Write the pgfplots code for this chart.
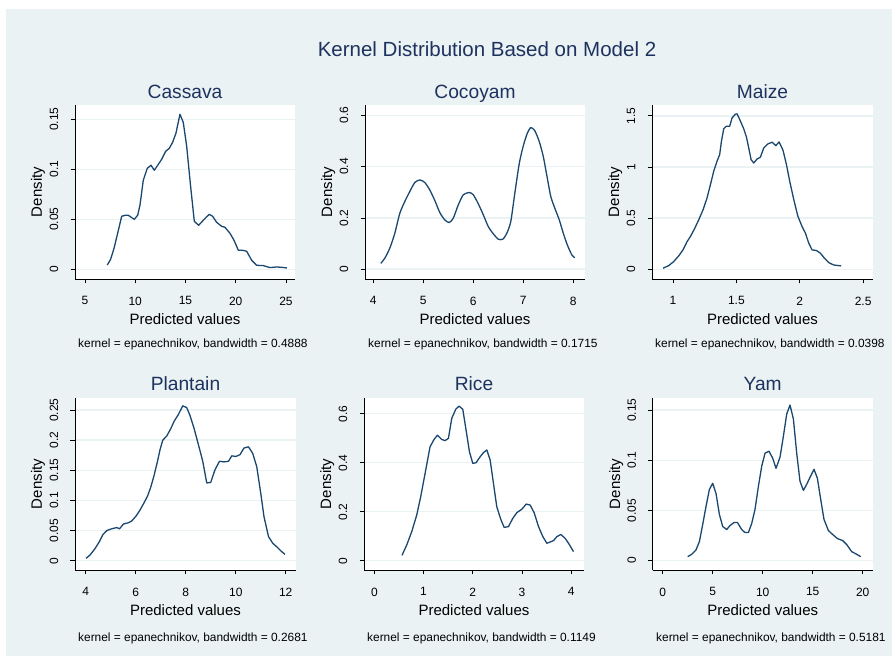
\documentclass[border=0pt]{standalone}
\usepackage{pgfplots}
\pgfplotsset{compat=1.18}
\usepackage{fontspec}
\setmainfont{Liberation Sans}
\definecolor{bg}{RGB}{234,242,243}
\definecolor{gridc}{RGB}{234,242,243}
\definecolor{navy}{RGB}{26,71,111}
\definecolor{ttl}{RGB}{30,50,95}
\newcommand{\tlfont}{\fontsize{12}{14}\selectfont}

\pgfplotsset{
 panel/.style={
  scale only axis, anchor=south west,
  axis x line*=bottom, axis y line*=left,
  axis line style={black, line width=0.8pt, -},
  axis background/.style={fill=white},
  tick align=outside, major tick length=4.5pt,
  tick style={black, line width=0.8pt},
  ymajorgrids, major grid style={gridc, line width=1.5pt},
  xticklabel style={font=\tlfont, anchor=north, inner sep=0pt, yshift=-13pt},
  yticklabel style={font=\tlfont, xshift=-12pt, rotate=90, anchor=south, inner sep=0pt},
  /pgf/number format/assume math mode=true,
 },
 curve/.style={navy, line width=1.3pt, line join=round, no marks},
}

\begin{document}
\begin{tikzpicture}[x=1pt,y=1pt]
\useasboundingbox (0,0) rectangle (892,656);
\fill[white] (0,0) rectangle (892,656);
\fill[bg] (6,0) rectangle (892,647);

\node[anchor=base, text=ttl, font=\fontsize{20.5}{24}\selectfont] at (487,599.3) {Kernel Distribution Based on Model 2};

% ---------- Cassava ----------
\begin{axis}[panel, at={(75pt,377pt)}, width=220pt, height=174pt,
  xmin=4.005, xmax=25.9, ymin=-0.0097, ymax=0.1643,
  xtick={5,10,15,20,25}, xticklabels={5,10,15,20,25},
  ytick={0,0.05,0.1,0.15}, yticklabels={0,0.05,0.1,0.15}]
\addplot[curve] coordinates {(7.22,0.0043)(7.55,0.010)(7.89,0.021)(8.25,0.036)(8.65,0.053)(9.0,0.054)(9.31,0.054)(9.6,0.052)(9.91,0.050)(10.24,0.054)(10.47,0.064)(10.80,0.089)(11.20,0.101)(11.57,0.104)(11.90,0.099)(12.30,0.105)(12.63,0.110)(13.03,0.118)(13.39,0.121)(13.72,0.127)(14.05,0.136)(14.45,0.155)(14.78,0.147)(15.12,0.123)(15.51,0.083)(15.88,0.048)(16.31,0.044)(16.77,0.049)(17.37,0.055)(17.70,0.053)(18.10,0.047)(18.60,0.043)(18.93,0.042)(19.43,0.036)(19.83,0.029)(20.26,0.019)(20.69,0.019)(21.09,0.018)(21.59,0.009)(22.08,0.004)(22.74,0.0037)(23.41,0.0017)(24.07,0.0023)(24.57,0.002)(25.1,0.0013)};
\end{axis}

% ---------- Cocoyam ----------
\begin{axis}[panel, at={(365pt,377pt)}, width=220pt, height=174pt,
  xmin=3.834, xmax=8.234, ymin=-0.038, ymax=0.640,
  xtick={4,5,6,7,8}, xticklabels={4,5,6,7,8},
  ytick={0,0.2,0.4,0.6}, yticklabels={0,0.2,0.4,0.6}]
\addplot[curve, smooth, tension=0.4] coordinates {(4.15,0.023)(4.23,0.043)(4.33,0.082)(4.43,0.140)(4.53,0.218)(4.63,0.264)(4.73,0.303)(4.83,0.338)(4.93,0.348)(5.03,0.338)(5.13,0.309)(5.23,0.268)(5.33,0.221)(5.43,0.192)(5.52,0.182)(5.60,0.199)(5.70,0.251)(5.80,0.290)(5.92,0.299)(6.00,0.290)(6.10,0.255)(6.20,0.212)(6.30,0.166)(6.40,0.138)(6.50,0.117)(6.59,0.117)(6.67,0.140)(6.75,0.186)(6.83,0.296)(6.92,0.413)(7.00,0.481)(7.08,0.530)(7.15,0.552)(7.23,0.540)(7.32,0.497)(7.40,0.439)(7.48,0.355)(7.55,0.283)(7.63,0.238)(7.72,0.192)(7.80,0.140)(7.88,0.095)(7.97,0.056)(8.03,0.045)};
\end{axis}

% ---------- Maize ----------
\begin{axis}[panel, at={(652pt,377pt)}, width=221pt, height=174pt,
  xmin=0.834, xmax=2.578, ymin=-0.095, ymax=1.606,
  xtick={1,1.5,2,2.5}, xticklabels={1,1.5,2,2.5},
  ytick={0,0.5,1,1.5}, yticklabels={0,0.5,1,1.5}]
\addplot[curve] coordinates {(0.921,0.010)(0.966,0.036)(1.005,0.075)(1.045,0.131)(1.079,0.190)(1.111,0.271)(1.137,0.320)(1.168,0.392)(1.203,0.484)(1.237,0.582)(1.268,0.696)(1.295,0.827)(1.321,0.958)(1.347,1.056)(1.368,1.121)(1.382,1.252)(1.400,1.373)(1.421,1.399)(1.447,1.399)(1.466,1.480)(1.492,1.516)(1.505,1.520)(1.532,1.448)(1.558,1.373)(1.579,1.294)(1.600,1.170)(1.616,1.072)(1.637,1.039)(1.663,1.078)(1.689,1.095)(1.716,1.186)(1.747,1.225)(1.782,1.242)(1.811,1.209)(1.837,1.245)(1.868,1.163)(1.895,1.023)(1.921,0.859)(1.953,0.680)(1.984,0.523)(2.018,0.418)(2.045,0.353)(2.071,0.255)(2.097,0.190)(2.132,0.183)(2.163,0.157)(2.195,0.108)(2.229,0.065)(2.268,0.042)(2.326,0.033)};
\end{axis}

% ---------- Plantain ----------
\begin{axis}[panel, at={(75pt,86pt)}, width=221pt, height=172pt,
  xmin=3.57, xmax=12.41, ymin=-0.0154, ymax=0.270,
  xtick={4,6,8,10,12}, xticklabels={4,6,8,10,12},
  ytick={0,0.05,0.1,0.15,0.2,0.25}, yticklabels={0,0.05,0.1,0.15,0.2,0.25}]
\addplot[curve] coordinates {(4.01,0.0039)(4.17,0.0094)(4.37,0.020)(4.55,0.032)(4.68,0.043)(4.84,0.050)(5.04,0.053)(5.24,0.055)(5.35,0.053)(5.51,0.061)(5.71,0.063)(5.84,0.066)(6.01,0.074)(6.17,0.084)(6.33,0.096)(6.47,0.107)(6.60,0.122)(6.73,0.141)(6.87,0.165)(6.97,0.184)(7.08,0.200)(7.24,0.207)(7.40,0.219)(7.53,0.231)(7.71,0.243)(7.88,0.257)(8.04,0.254)(8.17,0.241)(8.33,0.220)(8.51,0.192)(8.68,0.165)(8.84,0.129)(9.00,0.130)(9.17,0.151)(9.35,0.165)(9.53,0.164)(9.71,0.165)(9.84,0.174)(10.01,0.173)(10.17,0.176)(10.33,0.187)(10.51,0.189)(10.68,0.178)(10.84,0.156)(11.00,0.112)(11.13,0.073)(11.31,0.040)(11.48,0.029)(11.67,0.022)(11.84,0.015)(11.97,0.0105)};
\end{axis}

% ---------- Rice ----------
\begin{axis}[panel, at={(364pt,86pt)}, width=220pt, height=172pt,
  xmin=-0.21, xmax=4.26, ymin=-0.038, ymax=0.664,
  xtick={0,1,2,3,4}, xticklabels={0,1,2,3,4},
  ytick={0,0.2,0.4,0.6}, yticklabels={0,0.2,0.4,0.6}]
\addplot[curve] coordinates {(0.563,0.022)(0.658,0.064)(0.759,0.118)(0.861,0.186)(0.942,0.261)(1.031,0.356)(1.132,0.465)(1.214,0.495)(1.281,0.512)(1.369,0.495)(1.437,0.490)(1.505,0.499)(1.573,0.581)(1.654,0.618)(1.722,0.631)(1.797,0.618)(1.864,0.533)(1.932,0.445)(2.000,0.397)(2.068,0.400)(2.149,0.424)(2.217,0.441)(2.285,0.452)(2.353,0.411)(2.420,0.316)(2.488,0.220)(2.569,0.169)(2.637,0.136)(2.725,0.139)(2.814,0.173)(2.895,0.196)(2.997,0.210)(3.085,0.231)(3.166,0.227)(3.247,0.196)(3.336,0.139)(3.424,0.098)(3.505,0.071)(3.641,0.082)(3.708,0.098)(3.790,0.107)(3.878,0.091)(3.946,0.071)(4.047,0.037)};
\end{axis}

% ---------- Yam ----------
\begin{axis}[panel, at={(652.7pt,86pt)}, width=220pt, height=172pt,
  xmin=-1.0, xmax=21.0, ymin=-0.0093, ymax=0.162,
  xtick={0,5,10,15,20}, xticklabels={0,5,10,15,20},
  ytick={0,0.05,0.1,0.15}, yticklabels={0,0.05,0.1,0.15}]
\addplot[curve] coordinates {(2.50,0.004)(2.90,0.0063)(3.33,0.0107)(3.67,0.019)(4.00,0.036)(4.33,0.054)(4.67,0.071)(5.00,0.077)(5.33,0.067)(5.67,0.046)(6.00,0.034)(6.40,0.031)(6.73,0.035)(7.13,0.038)(7.47,0.038)(7.90,0.031)(8.23,0.028)(8.57,0.028)(8.90,0.037)(9.23,0.051)(9.57,0.074)(9.90,0.094)(10.23,0.107)(10.63,0.109)(11.00,0.102)(11.33,0.092)(11.73,0.103)(12.07,0.124)(12.40,0.146)(12.73,0.155)(13.07,0.141)(13.40,0.107)(13.73,0.079)(14.07,0.070)(14.40,0.076)(14.73,0.083)(15.13,0.091)(15.47,0.082)(15.80,0.061)(16.13,0.041)(16.57,0.030)(17.00,0.026)(17.47,0.022)(18.00,0.020)(18.40,0.016)(18.90,0.009)(19.40,0.0063)(19.80,0.004)};
\end{axis}

% ---------- titles and labels ----------
\begin{scope}[every node/.style={anchor=base, text=ttl, font=\fontsize{19.2}{22}\selectfont}]
\node at (185,557.7) {Cassava};
\node at (475,557.7) {Cocoyam};
\node at (762.5,557.7) {Maize};
\node at (185.5,265.3) {Plantain};
\node at (474,265.3) {Rice};
\node at (762.7,265.3) {Yam};
\end{scope}

\begin{scope}[every node/.style={anchor=base, font=\fontsize{15}{17}\selectfont}]
\node at (185,331) {Predicted values};
\node at (475,331) {Predicted values};
\node at (762.5,331) {Predicted values};
\node at (185.5,40.3) {Predicted values};
\node at (474,40.3) {Predicted values};
\node at (762.7,40.3) {Predicted values};
\node[rotate=90] at (42,464) {Density};
\node[rotate=90] at (332,464) {Density};
\node[rotate=90] at (619,464) {Density};
\node[rotate=90] at (42,172) {Density};
\node[rotate=90] at (331,172) {Density};
\node[rotate=90] at (620,172) {Density};
\end{scope}

\begin{scope}[every node/.style={anchor=base west, inner sep=0pt, font=\fontsize{11.9}{14}\selectfont}]
\node at (78,308.7) {kernel = epanechnikov, bandwidth = 0.4888};
\node at (368,308.7) {kernel = epanechnikov, bandwidth = 0.1715};
\node at (655,308.7) {kernel = epanechnikov, bandwidth = 0.0398};
\node at (78,14.3) {kernel = epanechnikov, bandwidth = 0.2681};
\node at (367,14.3) {kernel = epanechnikov, bandwidth = 0.1149};
\node at (656,14.3) {kernel = epanechnikov, bandwidth = 0.5181};
\end{scope}
\end{tikzpicture}
\end{document}
